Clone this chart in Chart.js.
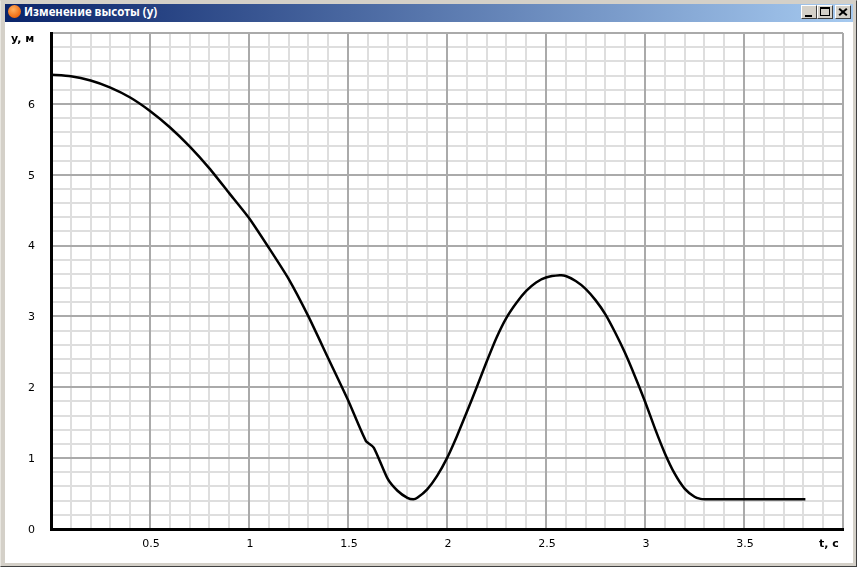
<!DOCTYPE html>
<html>
<head>
<meta charset="utf-8">
<title>Изменение высоты (y)</title>
<script src="https://cdn.jsdelivr.net/npm/chart.js@4"></script>
<style>
  html, body { margin: 0; padding: 0; background: #d4d0c8; overflow: hidden; }
  #win { position: absolute; left: 0; top: 0; width: 857px; height: 567px; background: #d4d0c8;
         box-sizing: border-box; border-top: 1px solid #d4d0c8; border-left: 1px solid #e8e6e0;
         border-right: 1px solid #404040; border-bottom: 1px solid #404040; }
  #titlebar { position: absolute; left: 5px; top: 4px; width: 848px; height: 18px;
              background: linear-gradient(to right, #0a246a, #a6caf0); }
  #icon { position: absolute; left: 8px; top: 5px; width: 13px; height: 13px; border-radius: 50%;
          background: radial-gradient(circle at 40% 35%, #ffb060, #f06a10 70%); }
  #caption { position: absolute; left: 24px; top: 5px; color: #fff; font: bold 11.5px "Noto Sans", sans-serif; white-space: nowrap; line-height: 14px; }
  #client { position: absolute; left: 5px; top: 22px; width: 848px; height: 541px; background: #fff; }
  canvas { position: absolute; left: 0; top: 0; }
  .btn { position: absolute; top: 5px; width: 16px; height: 14px; box-sizing: border-box; background: #d4d0c8;
         border: 1px solid; border-color: #fff #404040 #404040 #fff; }
  .btn i { position: absolute; display: block; box-sizing: border-box; }
</style>
</head>
<body>
<div id="win"></div>
<div id="client"></div>
<div id="titlebar"></div>
<div id="icon"></div>
<div id="caption">Изменение высоты (y)</div>
<div class="btn" style="left:801px"><i style="left:3px;top:9px;width:7px;height:2px;background:#000"></i></div>
<div class="btn" style="left:817px"><i style="left:2px;top:1px;width:10px;height:9px;border:1px solid #000;border-top-width:2px"></i></div>
<div class="btn" style="left:835px">
  <i style="left:2px;top:5px;width:10px;height:2px;background:#000;transform:rotate(40deg)"></i>
  <i style="left:2px;top:5px;width:10px;height:2px;background:#000;transform:rotate(-40deg)"></i>
</div>
<canvas id="chart" width="857" height="567"></canvas>
<script>
const tValues = [0, 0.1, 0.2, 0.3, 0.4, 0.5, 0.6, 0.7, 0.8, 0.9, 1, 1.1, 1.2, 1.3, 1.4, 1.5, 1.59, 1.63, 1.7, 1.75, 1.8, 1.83, 1.85, 1.9, 1.95, 2, 2.05, 2.1, 2.15, 2.2, 2.25, 2.3, 2.35, 2.4, 2.45, 2.5, 2.57, 2.6, 2.65, 2.7, 2.75, 2.8, 2.85, 2.9, 2.95, 3, 3.05, 3.1, 3.15, 3.2, 3.25, 3.28, 3.3, 3.5, 3.81];
const yValues = [6.41, 6.39, 6.33, 6.23, 6.09, 5.9, 5.67, 5.4, 5.09, 4.74, 4.39, 3.97, 3.53, 3.0, 2.41, 1.82, 1.245, 1.15, 0.71, 0.54, 0.44, 0.42, 0.44, 0.56, 0.75, 1.0, 1.31, 1.65, 2.0, 2.36, 2.7, 2.98, 3.19, 3.36, 3.48, 3.55, 3.58, 3.57, 3.5, 3.39, 3.23, 3.03, 2.77, 2.48, 2.15, 1.8, 1.42, 1.07, 0.78, 0.57, 0.455, 0.425, 0.42, 0.42, 0.42];
const xAxisName = 't, с';
const yAxisName = 'y, м';

const MAJOR = '#aaaaaa';
const MINOR = '#dedede';
const tickFont = { family: '"DejaVu Sans"', size: 11 };

// axis names sit beside the tick labels, not centred like a normal scale title
const axisNames = {
  id: 'axisNames',
  afterDraw(chart) {
    const ctx = chart.ctx;
    ctx.save();
    ctx.fillStyle = '#000';
    ctx.font = 'bold 11px "DejaVu Sans"';
    ctx.textBaseline = 'middle';
    ctx.textAlign = 'left';
    ctx.fillText(yAxisName, 11, 39);
    ctx.fillText(xAxisName, 819, 544);
    ctx.restore();
  }
};

// second pair of scales only draws the heavy grid, on top of the light one
const majorScale = function(axis, position, max, step) {
  return {
    type: 'linear',
    axis: axis,
    position: position,
    min: 0,
    max: max,
    afterFit(scale) { if (axis === 'x') scale.height = 0; else scale.width = 0; },
    ticks: { display: false, stepSize: step, autoSkip: false },
    grid: { z: -1, drawTicks: false, lineWidth: 2, color: MAJOR },
    border: { display: false }
  };
};

new Chart(document.getElementById('chart').getContext('2d'), {
  type: 'line',
  data: {
    datasets: [{
      data: tValues.map((t, i) => ({ x: t, y: yValues[i] })),
      borderColor: '#000',
      borderWidth: 2.5,
      pointRadius: 0,
      tension: 0.2,
      fill: false
    }]
  },
  options: {
    responsive: false,
    devicePixelRatio: 1,
    animation: false,
    layout: { padding: { top: 33, right: 14, left: 0, bottom: 0 } },
    plugins: { legend: { display: false }, title: { display: false }, tooltip: { enabled: false } },
    scales: {
      x: {
        type: 'linear',
        min: 0,
        max: 4,
        afterFit(scale) { scale.height = 38; },
        ticks: {
          stepSize: 0.1,
          autoSkip: false,
          maxRotation: 0,
          padding: 9,
          labelOffset: 1,
          color: '#000',
          font: tickFont,
          callback(v) {
            const tenths = Math.round(v * 10);
            return (tenths % 5 === 0 && tenths > 0 && tenths < 40) ? String(tenths / 10) : '';
          }
        },
        grid: { z: -2, drawTicks: false, lineWidth: 2, color: MINOR },
        border: { color: '#000', width: 3 }
      },
      y: {
        type: 'linear',
        min: 0,
        max: 7,
        afterFit(scale) { scale.width = 51; },
        ticks: {
          stepSize: 0.2,
          autoSkip: false,
          padding: 16,
          labelOffset: 1,
          color: '#000',
          font: tickFont,
          callback(v) {
            const tenths = Math.round(v * 10);
            return (tenths % 10 === 0 && tenths < 70) ? String(tenths / 10) : '';
          }
        },
        grid: { z: -2, drawTicks: false, lineWidth: 2, color: MINOR },
        border: { color: '#000', width: 3 }
      },
      xMajor: majorScale('x', 'bottom', 4, 0.5),
      yMajor: majorScale('y', 'left', 7, 1)
    }
  },
  plugins: [axisNames]
});
</script>
</body>
</html>
